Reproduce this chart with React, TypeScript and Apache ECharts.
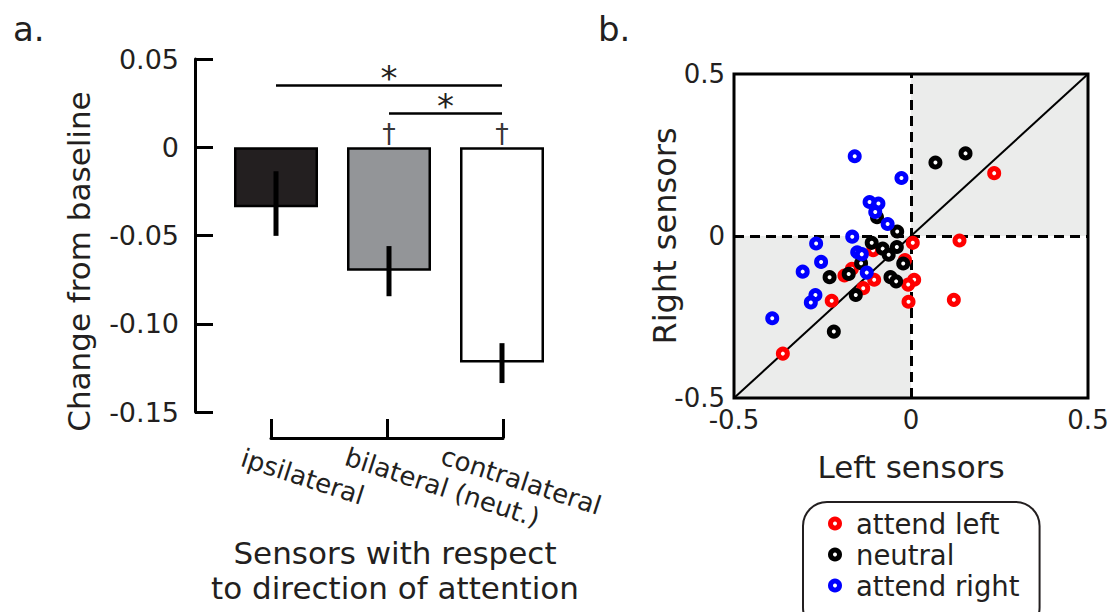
import React, { useEffect, useRef } from 'react';
import * as echarts from 'echarts';

// ---------- Panel a data ----------
const categories = ['ipsilateral', 'bilateral (neut.)', 'contralateral'];
const barValues = [-0.034, -0.07, -0.122];
const errLow = [-0.0502, -0.0844, -0.1336];
const errHigh = [-0.0136, -0.056, -0.111];
const barColors = ['#231f20', '#939598', '#ffffff'];
const sigPairs = [
  { from: 0, to: 2, level: 0.035 },
  { from: 1, to: 2, level: 0.0195 },
];
const daggerCats = [1, 2];

// ---------- Panel b data ----------
const attendLeft = [
  [0.235, 0.194], [0.005, -0.021], [0.137, -0.014], [-0.107, -0.044], [-0.017, -0.074],
  [-0.167, -0.101], [-0.188, -0.122], [-0.104, -0.135], [-0.135, -0.161], [0.009, -0.135],
  [-0.008, -0.15], [-0.224, -0.2], [-0.007, -0.203], [0.121, -0.197], [-0.362, -0.363],
];
const neutral = [
  [0.154, 0.255], [0.069, 0.227], [-0.096, 0.058], [-0.039, 0.014], [-0.111, -0.021],
  [-0.08, -0.039], [-0.063, -0.058], [-0.04, -0.034], [-0.141, -0.084], [-0.022, -0.085],
  [-0.176, -0.117], [-0.23, -0.127], [-0.058, -0.127], [-0.042, -0.14], [-0.156, -0.182],
  [-0.218, -0.295],
];
const attendRight = [
  [-0.159, 0.246], [-0.027, 0.179], [-0.117, 0.105], [-0.092, 0.1], [-0.101, 0.074],
  [-0.066, 0.037], [-0.166, -0.002], [-0.268, -0.023], [-0.254, -0.08], [-0.306, -0.11],
  [-0.152, -0.05], [-0.139, -0.056], [-0.125, -0.113], [-0.27, -0.182], [-0.283, -0.205],
  [-0.392, -0.254],
];
const seriesNames = ['attend left', 'neutral', 'attend right'];
const seriesColors = ['#ff0000', '#000000', '#0000ff'];
const scatterSets = [attendLeft, neutral, attendRight];

const TXT = '#231f20';
const FONT = 'DejaVu Sans';
const catLabelPos = [[242, 457], [346, 456], [442, 455]];

const fmtBar = (v: number) => (Math.abs(v) < 1e-9 ? '0' : v.toFixed(2));
const fmtSc = (v: number) => (Math.abs(v) < 1e-9 ? '0' : String(v));

function buildOption() {
  const dashed = { type: [10, 6], width: 3, color: '#000' };
  return {
    animation: false,
    textStyle: { fontFamily: FONT, color: TXT },
    grid: [
      { left: 219.5, top: 59, width: 339, height: 353 },
      { left: 271, top: 400, width: 232, height: 38 },
      {
        left: 734, top: 74, width: 354, height: 324, show: true,
        borderColor: '#000', borderWidth: 3, z: 10, backgroundColor: 'transparent',
      },
    ],
    xAxis: [
      { gridIndex: 0, type: 'category', data: categories, show: false },
      {
        gridIndex: 1, type: 'category', data: categories, boundaryGap: false,
        axisLine: { lineStyle: { color: '#000', width: 3 } },
        axisTick: { inside: true, length: 19, interval: 0, lineStyle: { width: 3, color: '#000' } },
        axisLabel: { show: false },
        name: 'Sensors with respect\nto direction of attention',
        nameLocation: 'middle', nameGap: 97,
        nameTextStyle: { fontSize: 31, lineHeight: 35, color: TXT, padding: [0, 0, 0, 16] },
      },
      {
        gridIndex: 2, type: 'value', min: -0.5, max: 0.5, interval: 0.5,
        splitLine: { show: false }, axisLine: { show: false }, axisTick: { show: false },
        axisLabel: { fontSize: 26, margin: 9, color: TXT, formatter: fmtSc },
        name: 'Left sensors', nameLocation: 'middle', nameGap: 53,
        nameTextStyle: { fontSize: 31, color: TXT },
      },
    ],
    yAxis: [
      {
        gridIndex: 0, type: 'value', min: -0.15, max: 0.05, interval: 0.05, offset: 24.5,
        axisLine: { show: true, lineStyle: { color: '#000', width: 3 } },
        axisTick: { show: true, inside: true, length: 18, lineStyle: { width: 3, color: '#000' } },
        splitLine: { show: false },
        axisLabel: { fontSize: 27, margin: 16, color: TXT, formatter: fmtBar },
        name: 'Change from baseline', nameLocation: 'middle', nameGap: 101,
        nameTextStyle: { fontSize: 31, color: TXT, padding: [0, 52, 0, 0] },
      },
      { gridIndex: 1, type: 'value', show: false },
      {
        gridIndex: 2, type: 'value', min: -0.5, max: 0.5, interval: 0.5,
        splitLine: { show: false }, axisLine: { show: false }, axisTick: { show: false },
        axisLabel: { fontSize: 26, margin: 9, color: TXT, formatter: fmtSc },
        name: 'Right sensors', nameLocation: 'middle', nameGap: 53, nameMoveOverlap: false,
        nameTextStyle: { fontSize: 32, color: TXT },
      },
    ],
    legend: {
      orient: 'vertical', left: 803, top: 502, height: 140,
      padding: [7.5, 20, 32, 25],
      itemWidth: 32, itemHeight: 9, itemGap: 3,
      icon: 'circle',
      itemStyle: { color: '#ffffff', borderWidth: 5 },
      textStyle: { fontSize: 27.5, color: TXT, fontFamily: FONT },
      borderColor: TXT, borderWidth: 2, borderRadius: 24,
      data: seriesNames,
    },
    series: [
      {
        type: 'bar', xAxisIndex: 0, yAxisIndex: 0, barWidth: 84,
        data: barValues.map((v, i) => ({ value: v, itemStyle: { color: barColors[i] } })),
        itemStyle: { borderColor: '#000', borderWidth: 2.5 },
        markLine: {
          symbol: 'none', silent: true,
          lineStyle: { color: '#000', width: 2.5, type: 'solid' },
          label: { show: true, formatter: '*', position: 'middle', fontSize: 34, color: TXT, distance: -10 },
          data: sigPairs.map((p) => [
            { coord: [categories[p.from], p.level] },
            { coord: [categories[p.to], p.level] },
          ]),
        },
      },
      {
        type: 'custom', xAxisIndex: 0, yAxisIndex: 0,
        data: categories.map((c, i) => [i, errLow[i], errHigh[i]]),
        encode: { x: 0, y: [1, 2] },
        renderItem: (params: any, api: any) => {
          const x = api.value(0);
          const lo = api.coord([x, api.value(1)]);
          const hi = api.coord([x, api.value(2)]);
          return {
            type: 'line',
            shape: { x1: lo[0], y1: lo[1], x2: hi[0], y2: hi[1] },
            style: { stroke: '#000', lineWidth: 5 },
          };
        },
        z: 5,
      },
      {
        type: 'scatter', xAxisIndex: 0, yAxisIndex: 0, symbolSize: 0,
        data: daggerCats.map((i) => [categories[i], 0]),
        label: { show: true, formatter: '†', position: 'top', distance: 0, fontSize: 27, color: '#000' },
        silent: true,
      },
      ...scatterSets.map((set, k) => {
        const s: any = {
          type: 'scatter', name: seriesNames[k], xAxisIndex: 2, yAxisIndex: 2,
          data: set, symbol: 'circle', symbolSize: 9,
          itemStyle: { color: '#ffffff', borderColor: seriesColors[k], borderWidth: 5, opacity: 1 },
        };
        if (k === 0) {
          s.markArea = {
            silent: true, itemStyle: { color: '#ebeceb' },
            data: [
              [{ coord: [-0.5, -0.5] }, { coord: [0, 0] }],
              [{ coord: [0, 0] }, { coord: [0.5, 0.5] }],
            ],
          };
          s.markLine = {
            symbol: 'none', silent: true, z: 1, label: { show: false },
            data: [
              { xAxis: 0, lineStyle: dashed },
              { yAxis: 0, lineStyle: dashed },
              [
                { coord: [-0.5, -0.5], lineStyle: { type: 'solid', width: 2, color: '#000' } },
                { coord: [0.5, 0.5] },
              ],
            ],
          };
        }
        return s;
      }),
    ],
    graphic: [
      { type: 'text', x: 13, y: 29, style: { text: 'a.', fontSize: 34, fontFamily: FONT, fill: TXT, align: 'left', verticalAlign: 'middle' } },
      { type: 'text', x: 598, y: 29, style: { text: 'b.', fontSize: 34, fontFamily: FONT, fill: TXT, align: 'left', verticalAlign: 'middle' } },
      ...categories.map((c, i) => ({
        type: 'text', x: catLabelPos[i][0], y: catLabelPos[i][1], rotation: (-18 * Math.PI) / 180,
        style: { text: c, fontSize: 26, fontFamily: FONT, fill: TXT, align: 'left', verticalAlign: 'middle' },
      })),
    ],
  };
}

export default function App() {
  const ref = useRef<HTMLDivElement>(null);
  useEffect(() => {
    const chart = echarts.init(ref.current!, null, { renderer: 'svg' });
    chart.setOption(buildOption() as any);
    return () => chart.dispose();
  }, []);
  return (
    <div
      ref={ref}
      style={{ position: 'absolute', left: 0, top: 0, width: 1119, height: 612, background: '#fff' }}
    />
  );
}
